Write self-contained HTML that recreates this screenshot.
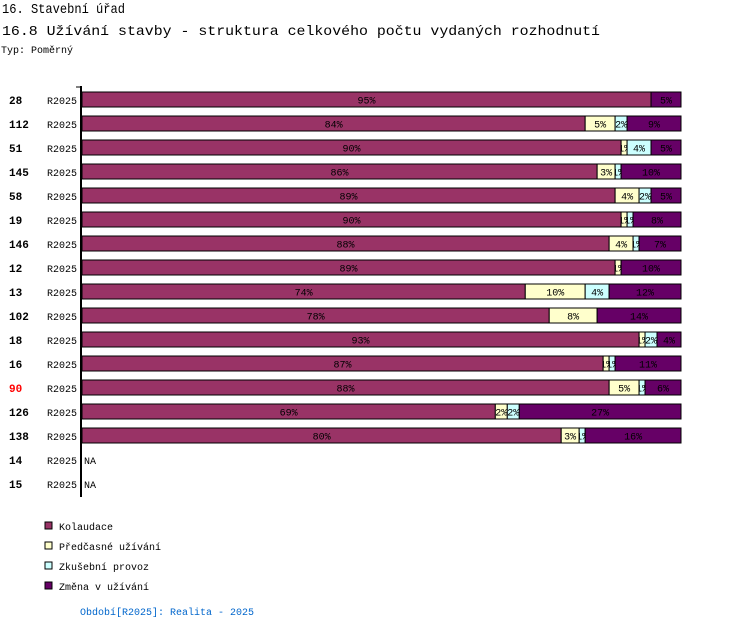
<!DOCTYPE html>
<html><head><meta charset="utf-8"><style>
body{margin:0;background:#fff;width:750px;height:630px;overflow:hidden;font-family:"Liberation Mono","DejaVu Sans Mono",monospace}
svg text{font-family:"Liberation Mono","DejaVu Sans Mono",monospace}
</style></head><body>
<svg width="750" height="630" id="svg" style="position:absolute;left:0;top:0">
<text x="2" y="13" font-size="14" textLength="123" lengthAdjust="spacingAndGlyphs">16. Stavební úřad</text>
<text x="2" y="35" font-size="14" textLength="598" lengthAdjust="spacingAndGlyphs">16.8 Užívání stavby - struktura celkového počtu vydaných rozhodnutí</text>
<text x="1" y="53" font-size="10">Typ: Poměrný</text>
<line x1="81" y1="86" x2="81" y2="497" stroke="#000" stroke-width="2"/>
<line x1="76" y1="87" x2="81" y2="87" stroke="#000"/>
<g id="bars"></g>
<g id="legend"></g>
<text x="80" y="615" font-size="10" fill="#0066cc">Období[R2025]: Realita - 2025</text>
</svg>
<script>
const ids=["28","112","51","145","58","19","146","12","13","102","18","16","90","126","138","14","15"];
const kolaudace=[95,84,90,86,89,90,88,89,74,78,93,87,88,69,80,null,null];
const predcasne=[0,5,1,3,4,1,4,1,10,8,1,1,5,2,3,null,null];
const zkusebni=[0,2,4,1,2,1,1,0,4,0,2,1,1,2,1,null,null];
const zmena=[5,9,5,10,5,8,7,10,12,14,4,11,6,27,16,null,null];
const seriesNames=["Kolaudace","Předčasné užívání","Zkušební provoz","Změna v užívání"];
const colors=["#993366","#ffffcc","#ccffff","#660066"];
const NS="http://www.w3.org/2000/svg";
const x0=82,W=599,top0=92,step=24,bh=15;
const xs=v=>v/100*W;
const g=document.getElementById('bars');
function mk(t,a,p){const e=document.createElementNS(NS,t);for(const k in a)e.setAttribute(k,a[k]);p.appendChild(e);return e;}
ids.forEach((id,i)=>{
  const y=top0+i*step;
  const t=mk('text',{x:9,y:y+12,'font-size':11,'font-weight':'bold',fill:id==="90"?"#ff0000":"#000"},g);t.textContent=id;
  
  
  const p=mk('text',{x:47,y:y+12,'font-size':10},g);p.textContent="R2025";
  
  
  if(kolaudace[i]===null){const n=mk('text',{x:84,y:y+12,'font-size':10},g);n.textContent="NA";
    
    return;}
  const vals=[kolaudace[i],predcasne[i],zkusebni[i],zmena[i]];
  const tot=vals.reduce((a,b)=>a+b,0);
  let cx=x0;
  vals.forEach((v,s)=>{
    if(!v)return;
    const w=xs(v/tot*100);
    const r=mk('rect',{x:cx,y:y,width:w,height:bh,fill:colors[s],stroke:'#000','stroke-width':1},g);
    
    
    const cid='c'+i+'_'+s;
    const cp=mk('clipPath',{id:cid},g);mk('rect',{x:cx,y:y,width:w,height:bh},cp);
    const lt=mk('text',{x:cx+w/2,y:y+11.5,'font-size':10,'text-anchor':'middle','clip-path':'url(#'+cid+')',fill:'#000'},g);
    lt.textContent=v+"%";
    
    
    cx+=w;
  });
});
const lg=document.getElementById('legend');
seriesNames.forEach((n,i)=>{
  const y=522+i*20;
  const r=mk('rect',{x:45,y:y,width:7,height:7,fill:colors[i],stroke:'#000'},lg);
  
  
  const t=mk('text',{x:59,y:y+8,'font-size':10},lg);t.textContent=n;
  
  
});
</script>
</body></html>
